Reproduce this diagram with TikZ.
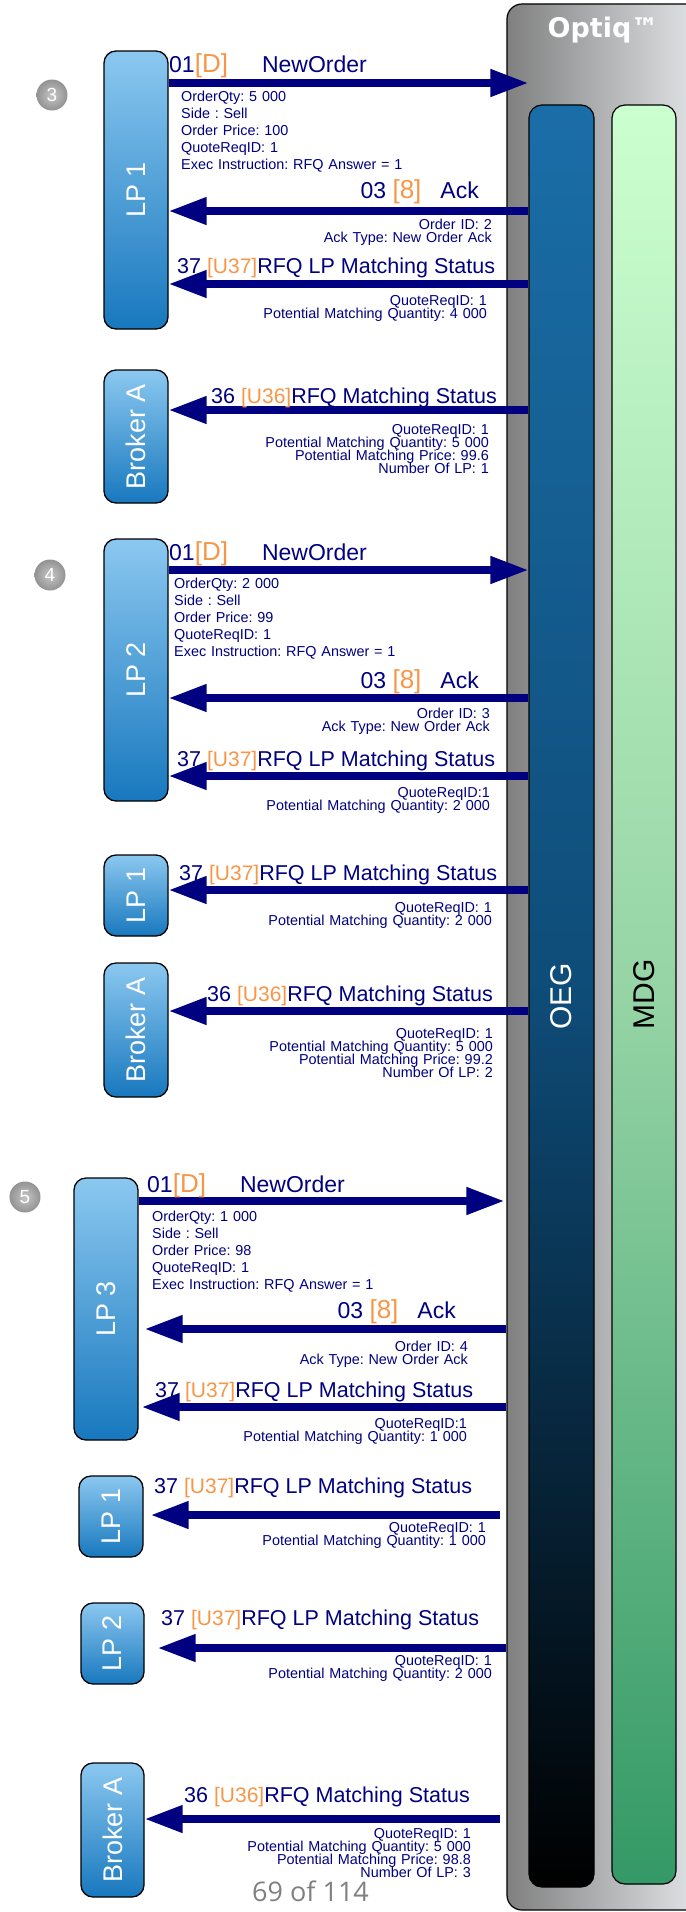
\documentclass[tikz,border=0pt]{standalone}
\usepackage{fontspec}
\setmainfont{Liberation Sans}
\newfontfamily\pagefont{Open Sans}
\newfontfamily\brandfont{DejaVu Sans}
\usetikzlibrary{arrows.meta}
\definecolor{msgblue}{RGB}{0,0,128}
\definecolor{tagorange}{RGB}{247,150,70}
\definecolor{pagegray}{RGB}{128,128,128}
\definecolor{lptop}{RGB}{139,200,240}
\definecolor{lpbottom}{RGB}{24,120,190}
\definecolor{oegtop}{RGB}{26,110,168}
\definecolor{oegmid}{RGB}{14,76,120}
\definecolor{mdgtop}{RGB}{204,255,208}
\definecolor{mdgmid}{RGB}{150,212,165}
\definecolor{mdgbottom}{RGB}{51,153,102}
\definecolor{optiqleft}{RGB}{128,128,128}
\definecolor{optiqright}{RGB}{236,239,242}
\newcommand{\msgtag}[2]{{\fontsize{#1}{#1}\selectfont\color{tagorange}#2}}

\begin{document}
\frenchspacing
\begin{tikzpicture}[x=1bp,y=-1bp,
	optiqbox/.style={draw=black,line width=1.2bp,rounded corners=15bp,left color=optiqleft,right color=optiqright,inner sep=0pt},
	gateway/.style={draw=black,line width=1.2bp,rounded corners=13bp,minimum width=65bp,inner sep=0pt},
	gwlabel/.style={rotate=90,font=\fontsize{30bp}{30bp}\selectfont,inner sep=0pt},
	member/.style={draw=black,line width=1.3bp,rounded corners=12bp,top color=lptop,bottom color=lpbottom,minimum width=64bp,inner sep=0pt},
	memlabel/.style={rotate=90,text=white,font=\fontsize{27bp}{27bp}\selectfont,inner sep=0pt},
	stepmark/.style={circle,minimum size=31bp,inner sep=0pt,inner color=gray!45,outer color=gray!85,text=white,font=\fontsize{19bp}{19bp}\selectfont},
	msg/.style={draw=msgblue,line width=7.5bp,-{Triangle[length=38bp,width=26bp]}},
	ttl/.style={text=msgblue,font=\fontsize{23bp}{27bp}\selectfont,inner sep=0pt},
	ttls/.style={text=msgblue,font=\fontsize{21.5bp}{25bp}\selectfont,inner sep=0pt},
	detl/.style={text=msgblue,font=\fontsize{14.4bp}{17bp}\selectfont,text width=300bp,align=left,anchor=base west,inner sep=0pt},
	detr/.style={text=msgblue,font={\fontsize{14.4bp}{13.2bp}\selectfont\lineskiplimit=-20bp},text width=300bp,align=right,anchor=base east,inner sep=0pt}]
	\useasboundingbox (0,0) rectangle (686,1912);
	\clip (0,0) rectangle (686,1912);
	% Optiq platform
	\node (optiq) at (613.5,957) [optiqbox,minimum width=213bp,minimum height=1906bp] {};
	\node (brand) at (603,37) [anchor=base,text=white,font=\brandfont\bfseries\fontsize{27bp}{27bp}\selectfont,inner sep=0pt] {Optiq™};
	\node (oeg) at (561.5,996) [gateway,top color=oegtop,bottom color=black,middle color=oegmid,minimum height=1782bp,label={[gwlabel,text=white]center:OEG}] {};
	\node (mdg) at (644,994.5) [gateway,top color=mdgtop,bottom color=mdgbottom,middle color=mdgmid,minimum width=64bp,minimum height=1779bp,label={[gwlabel]center:MDG}] {};
	% step 3
	\node (n3) at (52,95) [stepmark] {3};
	\node (lp1a) at (136,190) [member,minimum height=278bp,label={[memlabel]center:LP 1}] {};
	\draw[msg] (lp1a.east |- 0,83) -- (oeg.west |- 0,83);
	\node (t3a) at (169,72) [ttl,anchor=base west] {01\msgtag{26bp}{[D]}\hspace{34bp}NewOrder};
	\node (d3a) at (181,101) [detl] {OrderQty: 5 000\\Side : Sell\\Order Price: 100\\QuoteReqID: 1\\Exec Instruction: RFQ Answer = 1};
	\draw[msg] (oeg.west |- 0,211) -- (lp1a.east |- 0,211);
	\node (t3b) at (479,198) [ttl,anchor=base east] {03 \msgtag{26bp}{[8]}\hspace{19bp}Ack};
	\node (d3b) at (492,229) [detr] {Order ID: 2\\Ack Type: New Order Ack};
	\draw[msg] (oeg.west |- 0,284) -- (lp1a.east |- 0,284);
	\node (t3c) at (177,273) [ttls,anchor=base west] {37 \msgtag{21bp}{[U37]}RFQ LP Matching Status};
	\node (d3c) at (487,305) [detr] {QuoteReqID: 1\\Potential Matching Quantity: 4 000};
	\node (brka) at (136,436.5) [member,minimum height=133bp,label={[memlabel]center:Broker A}] {};
	\draw[msg] (oeg.west |- 0,410) -- (brka.east |- 0,410);
	\node (t3d) at (211,403) [ttls,anchor=base west] {36 \msgtag{21bp}{[U36]}RFQ Matching Status};
	\node (d3d) at (489,434) [detr] {QuoteReqID: 1\\Potential Matching Quantity: 5 000\\Potential Matching Price: 99.6\\Number Of LP: 1};
	% step 4
	\node (n4) at (50,575) [stepmark] {4};
	\node (lp2a) at (136,670) [member,minimum height=262bp,label={[memlabel]center:LP 2}] {};
	\draw[msg] (lp2a.east |- 0,570) -- (oeg.west |- 0,570);
	\node (t4a) at (169,560) [ttl,anchor=base west] {01\msgtag{26bp}{[D]}\hspace{34bp}NewOrder};
	\node (d4a) at (174,588) [detl] {OrderQty: 2 000\\Side : Sell\\Order Price: 99\\QuoteReqID: 1\\Exec Instruction: RFQ Answer = 1};
	\draw[msg] (oeg.west |- 0,698) -- (lp2a.east |- 0,698);
	\node (t4b) at (479,688) [ttl,anchor=base east] {03 \msgtag{26bp}{[8]}\hspace{19bp}Ack};
	\node (d4b) at (490,718) [detr] {Order ID: 3\\Ack Type: New Order Ack};
	\draw[msg] (oeg.west |- 0,776) -- (lp2a.east |- 0,776);
	\node (t4c) at (177,766) [ttls,anchor=base west] {37 \msgtag{21bp}{[U37]}RFQ LP Matching Status};
	\node (d4c) at (490,797) [detr] {QuoteReqID:1\\Potential Matching Quantity: 2 000};
	\node (lp1b) at (136,895.5) [member,minimum height=81bp,label={[memlabel]center:LP 1}] {};
	\draw[msg] (oeg.west |- 0,890) -- (lp1b.east |- 0,890);
	\node (t4d) at (179,880) [ttls,anchor=base west] {37 \msgtag{21bp}{[U37]}RFQ LP Matching Status};
	\node (d4d) at (492,912) [detr] {QuoteReqID: 1\\Potential Matching Quantity: 2 000};
	\node (brkb) at (136,1030) [member,minimum height=134bp,label={[memlabel]center:Broker A}] {};
	\draw[msg] (oeg.west |- 0,1011) -- (brkb.east |- 0,1011);
	\node (t4e) at (207,1001) [ttls,anchor=base west] {36 \msgtag{21bp}{[U36]}RFQ Matching Status};
	\node (d4e) at (493,1038) [detr] {QuoteReqID: 1\\Potential Matching Quantity: 5 000\\Potential Matching Price: 99.2\\Number Of LP: 2};
	% step 5
	\node (n5) at (25,1197) [stepmark] {5};
	\node (lp3) at (106,1309) [member,minimum height=262bp,label={[memlabel]center:LP 3}] {};
	\draw[msg,shorten >=2bp] (lp3.east |- 0,1201) -- (optiq.west |- 0,1201);
	\node (t5a) at (147,1192) [ttl,anchor=base west] {01\msgtag{26bp}{[D]}\hspace{34bp}NewOrder};
	\node (d5a) at (152,1221) [detl] {OrderQty: 1 000\\Side : Sell\\Order Price: 98\\QuoteReqID: 1\\Exec Instruction: RFQ Answer = 1};
	\draw[msg,shorten >=6bp] (optiq.west |- 0,1329) -- (lp3.east |- 0,1329);
	\node (t5b) at (456,1318) [ttl,anchor=base east] {03 \msgtag{26bp}{[8]}\hspace{19bp}Ack};
	\node (d5b) at (468,1351) [detr] {Order ID: 4\\Ack Type: New Order Ack};
	\draw[msg,shorten >=3bp] (optiq.west |- 0,1407) -- (lp3.east |- 0,1407);
	\node (t5c) at (155,1397) [ttls,anchor=base west] {37 \msgtag{21bp}{[U37]}RFQ LP Matching Status};
	\node (d5c) at (467,1428) [detr] {QuoteReqID:1\\Potential Matching Quantity: 1 000};
	\node (lp1c) at (111,1516.5) [member,minimum height=81bp,label={[memlabel]center:LP 1}] {};
	\draw[msg,shorten <=6bp,shorten >=7bp] (optiq.west |- 0,1515) -- (lp1c.east |- 0,1515);
	\node (t5d) at (154,1493) [ttls,anchor=base west] {37 \msgtag{21bp}{[U37]}RFQ LP Matching Status};
	\node (d5d) at (486,1532) [detr] {QuoteReqID: 1\\Potential Matching Quantity: 1 000};
	\node (lp2b) at (112.5,1643.5) [member,minimum width=63bp,minimum height=81bp,label={[memlabel]center:LP 2}] {};
	\draw[msg,shorten >=13bp] (optiq.west |- 0,1648) -- (lp2b.east |- 0,1648);
	\node (t5e) at (161,1625) [ttls,anchor=base west] {37 \msgtag{21bp}{[U37]}RFQ LP Matching Status};
	\node (d5e) at (492,1665) [detr] {QuoteReqID: 1\\Potential Matching Quantity: 2 000};
	\node (brkc) at (112.5,1830) [member,minimum width=63bp,minimum height=134bp,label={[memlabel]center:Broker A}] {};
	\draw[msg,shorten <=6bp] (optiq.west |- 0,1819) -- (brkc.east |- 0,1819);
	\node (t5f) at (184,1802) [ttls,anchor=base west] {36 \msgtag{21bp}{[U36]}RFQ Matching Status};
	\node (d5f) at (471,1838) [detr] {QuoteReqID: 1\\Potential Matching Quantity: 5 000\\Potential Matching Price: 98.8\\Number Of LP: 3};
	% page number
	\node (pg) at (252,1901) [anchor=base west,text=pagegray,font=\pagefont\fontsize{27bp}{27bp}\selectfont,inner sep=0pt] {69 of 114};
\end{tikzpicture}
\end{document}
